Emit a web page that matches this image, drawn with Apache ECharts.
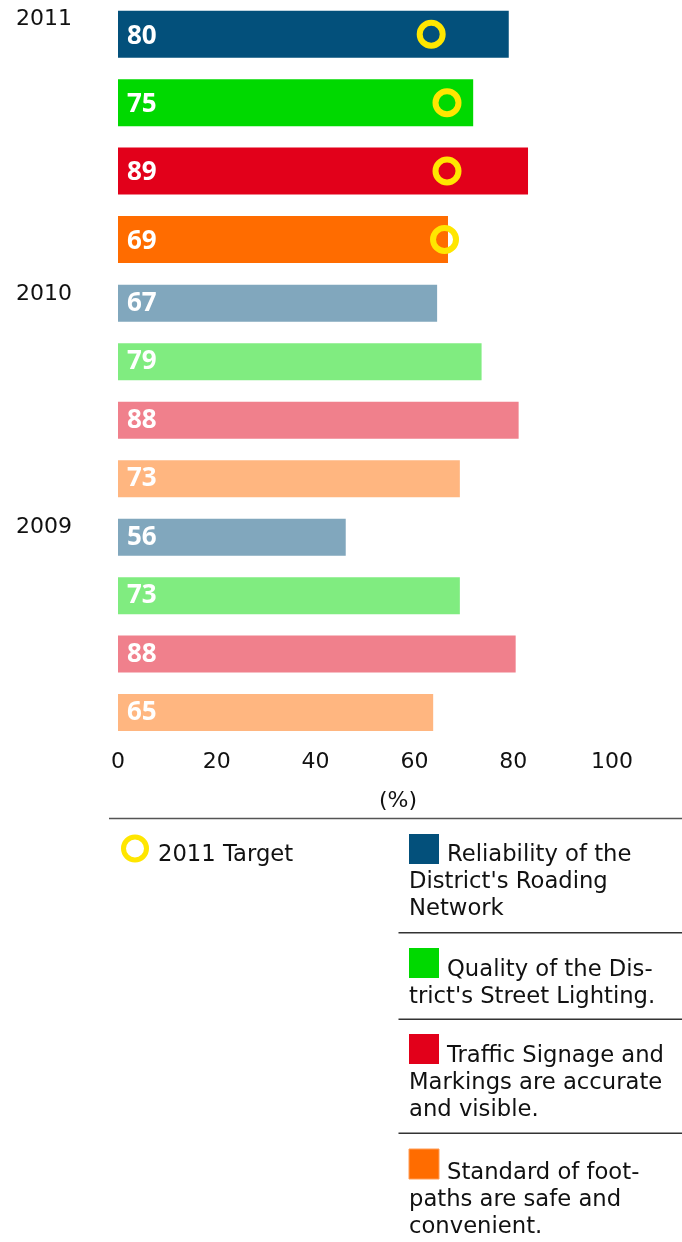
<!DOCTYPE html>
<html>
<head>
<meta charset="utf-8">
<style>
  html, body { margin: 0; padding: 0; background: #fff; }
  #chart { width: 682px; height: 1242px; }
</style>
<script src="https://cdn.jsdelivr.net/npm/echarts@6/dist/echarts.min.js"></script>
</head>
<body>
<div id="chart"></div>
<script>
(function () {
  const years = ["2011", "2010", "2009"];
  const measures = [
    "Reliability of the District's Roading Network",
    "Quality of the District's Street Lighting.",
    "Traffic Signage and Markings are accurate and visible.",
    "Standard of footpaths are safe and convenient.",
  ];

  // printed scores (%)
  const scores2011 = [80, 75, 89, 69];
  const scores2010 = [67, 79, 88, 73];
  const scores2009 = [56, 73, 88, 65];

  // bar lengths as drawn against the axis (the source chart does not scale them to the scores)
  const bars2011 = [79.1, 71.9, 83.0, 66.8];
  const bars2010 = [64.6, 73.6, 81.1, 69.2];
  const bars2009 = [46.1, 69.2, 80.5, 63.8];

  const targets2011 = [63.4, 66.6, 66.6, 66.1];

  const xTicks = [0, 20, 40, 60, 80, 100];

  const DARK = ["#03507b", "#00d900", "#e2001a", "#ff6c00"];
  const LIGHT = ["#81a7bd", "#80ec80", "#f0808c", "#ffb680"];
  const TARGET = "#ffe600";
  const FONT = "DejaVu Sans";
  const LEGEND_FONT = `22.7px '${FONT}'`;

  const legendLines = [
    ["Reliability of the", "District's Roading", "Network"],
    ["Quality of the Dis-", "trict's Street Lighting."],
    ["Traffic Signage and", "Markings are accurate", "and visible."],
    ["Standard of foot-", "paths are safe and", "convenient."],
  ];

  function barData(lengths, scores, colors) {
    return lengths.map((v, i) => ({
      value: v,
      itemStyle: { color: colors[i % 4] },
      label: { formatter: String(scores[i]) },
    }));
  }

  const barLabel = {
    show: true,
    position: "insideLeft",
    distance: 9,
    color: "#fff",
    fontFamily: "Open Sans",
    fontWeight: "bold",
    fontSize: 26,
  };

  const xMin = xTicks[0];
  const xMax = xTicks[xTicks.length - 1];
  const xStep = xTicks[1] - xTicks[0];

  const gridLeft = 118;
  const gridWidth = 494;

  // legend drawn as graphics
  const graphic = [];
  years.forEach((y, i) => {
    graphic.push({
      type: "text",
      left: 16,
      top: [8, 283, 516][i],
      style: { text: y, font: `22px '${FONT}'`, fill: "#111" },
    });
  });
  graphic.push({
    type: "text",
    x: 398,
    y: 801,
    style: { text: "(%)", font: `22px '${FONT}'`, fill: "#111", align: "center", verticalAlign: "middle" },
  });
  graphic.push({
    type: "line",
    shape: { x1: 109, y1: 818.5, x2: 682, y2: 818.5 },
    style: { stroke: "#555", lineWidth: 1.5 },
  });
  graphic.push({
    type: "circle",
    shape: { cx: 135, cy: 848.5, r: 11.5 },
    style: { fill: "none", stroke: TARGET, lineWidth: 5 },
  });
  graphic.push({
    type: "text",
    x: 158,
    y: 855,
    style: { text: "2011 Target", font: LEGEND_FONT, fill: "#111", verticalAlign: "middle" },
  });

  const boxTops = [834, 948, 1034, 1149];
  const firstLineY = [855, 970, 1056, 1172.7];
  const sepY = [932.7, 1019.3, 1133.3];
  legendLines.forEach((lines, i) => {
    graphic.push({
      type: "rect",
      shape: { x: 409, y: boxTops[i], width: 30, height: 30 },
      style: i === 3 ? { fill: DARK[i], stroke: "#ff9b55", lineWidth: 1 } : { fill: DARK[i] },
    });
    lines.forEach((t, k) => {
      graphic.push({
        type: "text",
        x: k === 0 ? 447 : 409,
        y: firstLineY[i] + k * 27,
        style: { text: t, font: LEGEND_FONT, fill: "#111", verticalAlign: "middle" },
      });
    });
  });
  sepY.forEach((y) => {
    graphic.push({
      type: "line",
      shape: { x1: 398.5, y1: y, x2: 682, y2: y },
      style: { stroke: "#333", lineWidth: 1.5 },
    });
  });

  const option = {
    animation: false,
    backgroundColor: "#fff",
    grid: [
      { left: gridLeft, width: gridWidth, top: -3, height: 276.7 },
      { left: gridLeft, width: gridWidth, top: 274.1, height: 467.7 },
    ],
    xAxis: [
      { gridIndex: 0, type: "value", min: xMin, max: xMax, interval: xStep, show: false },
      {
        gridIndex: 1,
        type: "value",
        min: xMin,
        max: xMax,
        interval: xStep,
        axisLine: { show: false },
        axisTick: { show: false },
        splitLine: { show: false },
        axisLabel: { color: "#111", fontFamily: FONT, fontSize: 22, margin: 9 },
      },
    ],
    yAxis: [
      { gridIndex: 0, type: "category", inverse: true, show: false, data: measures.map((m) => "2011 " + m) },
      {
        gridIndex: 1,
        type: "category",
        inverse: true,
        show: false,
        data: measures.map((m) => "2010 " + m).concat(measures.map((m) => "2009 " + m)),
      },
    ],
    series: [
      {
        name: "2011",
        type: "bar",
        xAxisIndex: 0,
        yAxisIndex: 0,
        barWidth: 47,
        label: Object.assign({}, barLabel, { offset: [0, 2] }),
        data: barData(bars2011, scores2011, DARK),
      },
      {
        name: "2010-2009",
        type: "bar",
        xAxisIndex: 1,
        yAxisIndex: 1,
        barWidth: 37,
        label: barLabel,
        data: barData(bars2010.concat(bars2009), scores2010.concat(scores2009), LIGHT),
      },
      {
        name: "2011 Target",
        type: "scatter",
        xAxisIndex: 0,
        yAxisIndex: 0,
        symbol: "circle",
        symbolSize: 23,
        z: 5,
        itemStyle: { color: "rgba(0,0,0,0)", borderColor: TARGET, borderWidth: 6, opacity: 1 },
        data: targets2011.map((v, i) => [v, i]),
      },
    ],
    graphic,
  };

  const chart = echarts.init(document.getElementById("chart"), null, { renderer: "canvas" });
  chart.setOption(option);
})();
</script>
</body>
</html>
